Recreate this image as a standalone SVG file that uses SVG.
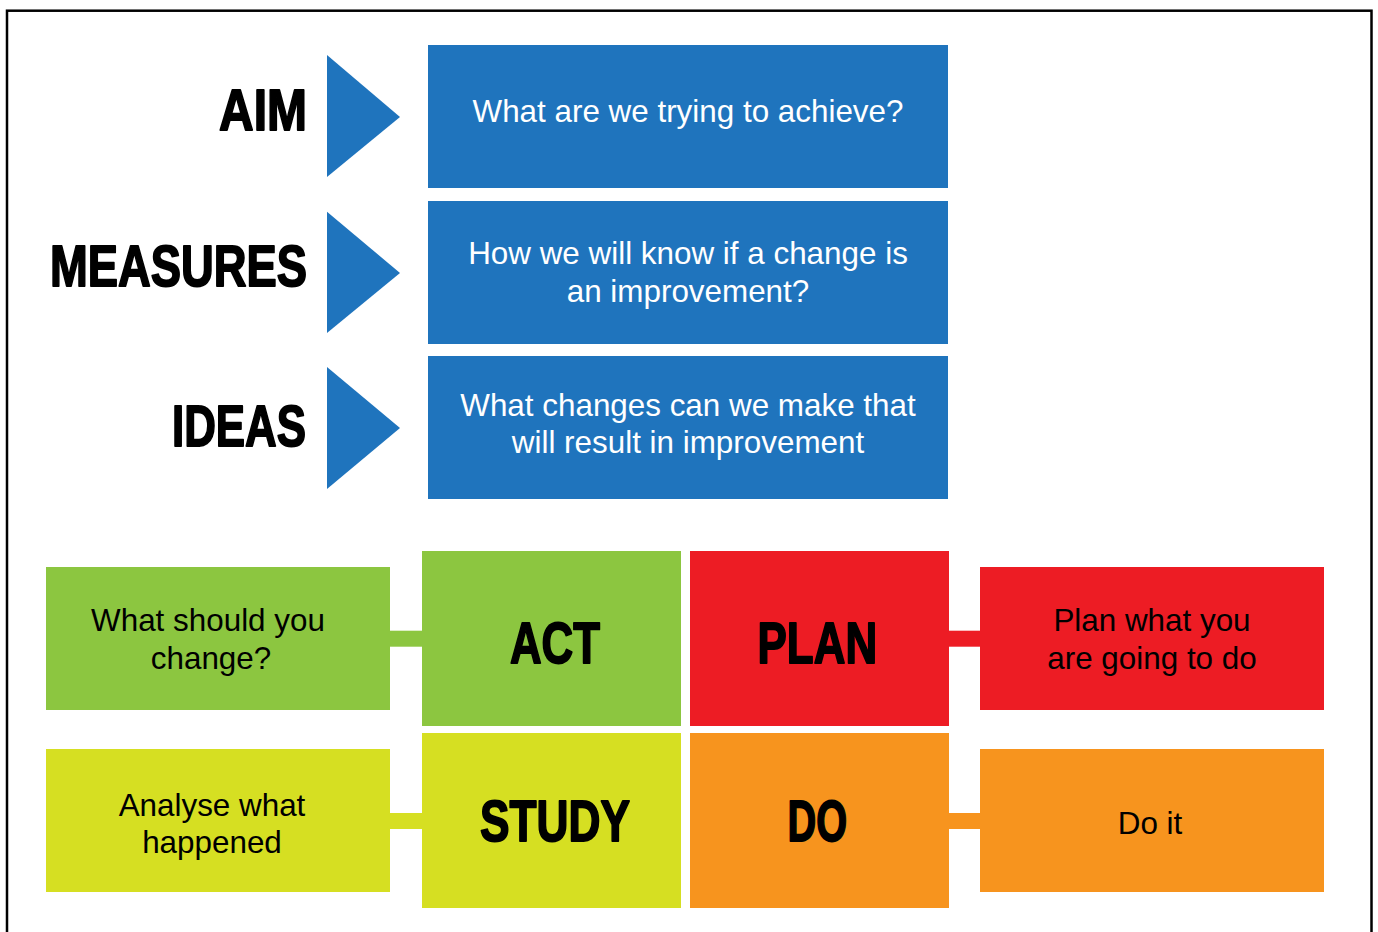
<svg xmlns="http://www.w3.org/2000/svg" width="1378" height="932" viewBox="0 0 1378 932">
  <style>
    .lbl { font-family: "Liberation Sans Narrow", "Liberation Sans", Arial, sans-serif; font-weight: bold; font-size: 57px; fill: #000; stroke: #000; stroke-width: 1.8px; stroke-linejoin: round; }
    .txt { font-family: "Liberation Sans", Arial, sans-serif; font-size: 31.4px; text-anchor: middle; }
    .w { fill: #fff; }
    .k { fill: #000; }
    .blue { fill: #1f74bd; }
    .green { fill: #8cc640; }
    .lime { fill: #d6df22; }
    .red { fill: #ed1c24; }
    .orange { fill: #f7941e; }
  </style>
  <rect x="0" y="0" width="1378" height="932" fill="#fff"/>
  <rect x="7" y="10.7" width="1364.5" height="940" fill="none" stroke="#000" stroke-width="2.5"/>

  <g id="aim">
    <text class="lbl" x="219" y="130" textLength="88" lengthAdjust="spacingAndGlyphs">AIM</text>
    <polygon class="blue" points="327,55 400,117 327,177"/>
    <rect class="blue" x="428" y="45" width="520" height="143"/>
    <text class="txt w" x="688" y="122">What are we trying to achieve?</text>
  </g>

  <g id="measures">
    <text class="lbl" x="50" y="285.8" textLength="257" lengthAdjust="spacingAndGlyphs">MEASURES</text>
    <polygon class="blue" points="327,211.7 400,273 327,333"/>
    <rect class="blue" x="428" y="201" width="520" height="143"/>
    <text class="txt w" x="688" y="263.5">How we will know if a change is</text>
    <text class="txt w" x="688" y="301.5">an improvement?</text>
  </g>

  <g id="ideas">
    <text class="lbl" x="172" y="446" textLength="134" lengthAdjust="spacingAndGlyphs">IDEAS</text>
    <polygon class="blue" points="327,367 400,428 327,489"/>
    <rect class="blue" x="428" y="356" width="520" height="143"/>
    <text class="txt w" x="688" y="416">What changes can we make that</text>
    <text class="txt w" x="688" y="453">will result in improvement</text>
  </g>

  <g id="connectors">
    <rect class="green" x="389" y="630.7" width="34" height="16"/>
    <rect class="lime" x="389" y="813" width="34" height="16"/>
    <rect class="red" x="948" y="630.7" width="33" height="16"/>
    <rect class="orange" x="948" y="813" width="33" height="16"/>
  </g>

  <g id="act">
    <rect class="green" x="422" y="551" width="259" height="175"/>
    <text class="lbl" x="510" y="662.6" textLength="90" lengthAdjust="spacingAndGlyphs">ACT</text>
  </g>
  <g id="plan">
    <rect class="red" x="690" y="551" width="259" height="175"/>
    <text class="lbl" x="757.6" y="662.6" textLength="119.5" lengthAdjust="spacingAndGlyphs">PLAN</text>
  </g>
  <g id="study">
    <rect class="lime" x="422" y="733" width="259" height="175"/>
    <text class="lbl" x="480" y="841" textLength="150" lengthAdjust="spacingAndGlyphs">STUDY</text>
  </g>
  <g id="do">
    <rect class="orange" x="690" y="733" width="259" height="175"/>
    <text class="lbl" x="787.6" y="841" textLength="59.5" lengthAdjust="spacingAndGlyphs">DO</text>
  </g>

  <g id="change">
    <rect class="green" x="46" y="567" width="344" height="143"/>
    <text class="txt k" x="208" y="631">What should you</text>
    <text class="txt k" x="211" y="669">change?</text>
  </g>
  <g id="analyse">
    <rect class="lime" x="46" y="749" width="344" height="143"/>
    <text class="txt k" x="212" y="816">Analyse what</text>
    <text class="txt k" x="212" y="853">happened</text>
  </g>
  <g id="plan-what">
    <rect class="red" x="980" y="567" width="344" height="143"/>
    <text class="txt k" x="1152" y="631">Plan what you</text>
    <text class="txt k" x="1152" y="668.5">are going to do</text>
  </g>
  <g id="do-it">
    <rect class="orange" x="980" y="749" width="344" height="143"/>
    <text class="txt k" x="1150" y="833.5">Do it</text>
  </g>
</svg>
